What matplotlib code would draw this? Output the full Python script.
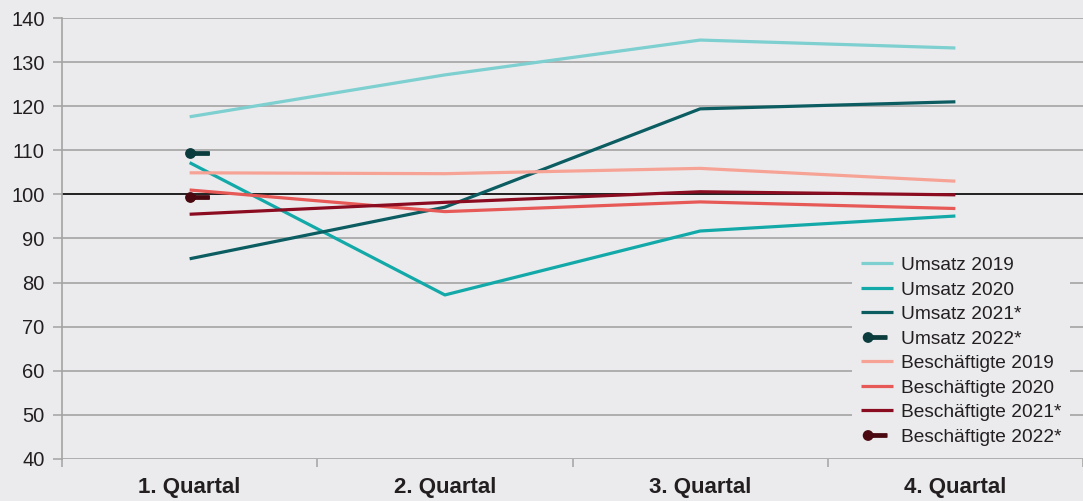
import matplotlib
matplotlib.use("Agg")
import matplotlib.pyplot as plt
from matplotlib.path import Path
from matplotlib.lines import Line2D

plt.rcParams['font.family'] = ['Liberation Sans', 'DejaVu Sans']

quarters = ["1. Quartal", "2. Quartal", "3. Quartal", "4. Quartal"]

umsatz_2019 = [117.6, 127.1, 135.0, 133.2]
umsatz_2020 = [107.2, 77.2, 91.7, 95.1]
umsatz_2021 = [85.4, 97.1, 119.4, 121.0]
umsatz_2022 = [109.5]
besch_2019 = [104.9, 104.7, 105.9, 103.0]
besch_2020 = [101.0, 96.1, 98.3, 96.8]
besch_2021 = [95.5, 98.2, 100.6, 99.9]
besch_2022 = [99.5]

bg = "#ebebed"
grid_col = "#a3a3a3"
text_col = "#231f20"


def stub_marker(shift):
    # dot with a short bar to its right, like the original "2022" points
    circle = Path.circle((shift, 0), 4.5)
    bar = Path([(shift, -1.6), (shift + 18, -1.6), (shift + 18, 1.6), (shift, 1.6), (shift, -1.6)],
               [Path.MOVETO, Path.LINETO, Path.LINETO, Path.LINETO, Path.CLOSEPOLY])
    return Path.make_compound_path(circle, bar)


fig = plt.figure(figsize=(10.83, 5.01), dpi=100, facecolor=bg)
ax = fig.add_axes([62 / 1083, 1 - 459 / 501, 1 - 62 / 1083, (459 - 18) / 501])
ax.set_facecolor(bg)

x = list(range(len(quarters)))
lw = 2.3

series = [
    ("Umsatz 2019", umsatz_2019, "#7dcfd0"),
    ("Umsatz 2020", umsatz_2020, "#12a9a8"),
    ("Umsatz 2021*", umsatz_2021, "#0b5d62"),
    ("Umsatz 2022*", umsatz_2022, "#0a3c3d"),
    ("Beschäftigte 2019", besch_2019, "#f6a396"),
    ("Beschäftigte 2020", besch_2020, "#e65957"),
    ("Beschäftigte 2021*", besch_2021, "#8b0b20"),
    ("Beschäftigte 2022*", besch_2022, "#4a0810"),
]

handles = []
for name, vals, col in series:
    xs = x[:len(vals)]
    if len(vals) == 1:
        ax.plot(xs, vals, linestyle="none", marker=stub_marker(0), markersize=27,
                color=col, zorder=4)
        # legend version centred on the handle, same physical size
        handles.append(Line2D([], [], linestyle="none", marker=stub_marker(-9),
                              markersize=27 * 13.5 / 18, color=col))
    else:
        h, = ax.plot(xs, vals, color=col, lw=lw, zorder=3, solid_capstyle="butt")
        handles.append(h)

ax.axhline(100, color="#222222", lw=1.4, zorder=2)

ax.set_xlim(-0.5, 3.5)
ax.set_ylim(40, 140)
ax.set_yticks(range(40, 141, 10))
ax.yaxis.grid(True, color=grid_col, lw=1.2)
ax.set_axisbelow(True)

ax.set_xticks(x)
ax.set_xticklabels(quarters, fontsize=16, fontweight="bold", color=text_col)
ax.set_xticks([-0.5, 0.5, 1.5, 2.5, 3.5], minor=True)
ax.tick_params(axis="x", which="major", length=0, pad=13)
ax.tick_params(axis="x", which="minor", length=6, width=1.1, color=grid_col)
ax.tick_params(axis="y", length=6.5, width=1.1, color=grid_col, pad=6,
               labelsize=14.5, labelcolor=text_col)

for s in ["top", "right", "bottom"]:
    ax.spines[s].set_visible(False)
ax.spines["left"].set_color(grid_col)
ax.spines["left"].set_linewidth(1.2)

leg = ax.legend(handles, [s[0] for s in series], loc="upper left",
                bbox_to_anchor=(852 / 1083, 1 - 248 / 501), bbox_transform=fig.transFigure,
                frameon=True, facecolor=bg, edgecolor="none", framealpha=1,
                fontsize=13.8, handlelength=1.7, handletextpad=0.4,
                labelspacing=0.37, borderpad=0.45, borderaxespad=0)
for t in leg.get_texts():
    t.set_color(text_col)

fig.savefig("out.png", dpi=100, facecolor=bg)
